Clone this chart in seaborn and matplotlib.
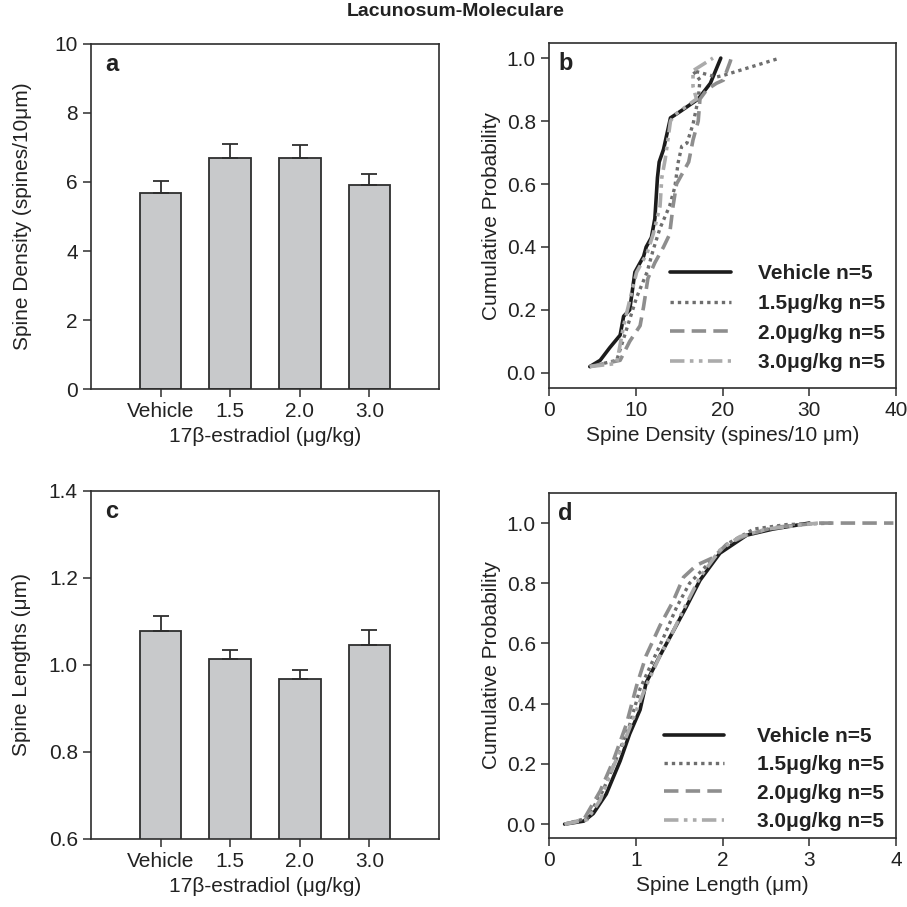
import numpy as np
import matplotlib
matplotlib.use("Agg")
import matplotlib.pyplot as plt
import seaborn as sns

sns.set_theme(style="ticks")
plt.rcParams['font.family'] = ['Liberation Sans', 'DejaVu Sans']

# bar panels
groups = ["Vehicle", "1.5", "2.0", "3.0"]
density_mean = [5.68, 6.70, 6.71, 5.91]
density_sem = [0.36, 0.40, 0.36, 0.31]
length_mean = [1.078, 1.014, 0.968, 1.047]
length_sem = [0.034, 0.020, 0.021, 0.033]

# cumulative curves, panel b (spine density)
series_names = ["Vehicle n=5", "1.5μg/kg n=5", "2.0μg/kg n=5", "3.0μg/kg n=5"]
b_veh_x = [4.7, 5.9, 7.0, 8.2, 8.6, 9.3, 9.9, 10.9, 11.2, 11.8, 12.2, 12.5, 12.7, 13.2, 13.6, 14.0, 15.1, 17.2, 18.6, 19.8]
b_veh_y = [0.02, 0.04, 0.08, 0.12, 0.18, 0.20, 0.32, 0.37, 0.40, 0.43, 0.49, 0.62, 0.67, 0.71, 0.76, 0.81, 0.83, 0.87, 0.92, 1.0]
b_15_x = [4.7, 7.8, 8.5, 9.3, 10.1, 11.3, 12.0, 12.8, 13.9, 14.5, 14.9, 15.3, 15.9, 16.6, 17.2, 17.4, 16.6, 19.3, 20.1, 26.6]
b_15_y = [0.02, 0.04, 0.10, 0.17, 0.24, 0.32, 0.39, 0.46, 0.53, 0.59, 0.67, 0.72, 0.73, 0.79, 0.87, 0.93, 0.96, 0.94, 0.945, 1.0]
b_20_x = [4.7, 8.2, 9.3, 10.5, 10.9, 11.4, 12.2, 13.2, 13.9, 14.3, 14.7, 15.5, 16.1, 16.6, 17.2, 17.4, 18.2, 19.3, 20.1, 20.9, 21.0]
b_20_y = [0.02, 0.04, 0.10, 0.15, 0.21, 0.30, 0.35, 0.40, 0.44, 0.53, 0.60, 0.64, 0.67, 0.74, 0.80, 0.87, 0.90, 0.92, 0.93, 0.99, 1.0]
b_30_x = [4.7, 7.8, 8.6, 9.3, 10.1, 11.3, 12.0, 12.8, 13.0, 13.4, 13.8, 14.0, 14.5, 17.0, 16.6, 16.6, 18.9]
b_30_y = [0.02, 0.03, 0.15, 0.23, 0.32, 0.38, 0.44, 0.53, 0.62, 0.68, 0.76, 0.80, 0.82, 0.87, 0.91, 0.96, 1.0]

# cumulative curves, panel d (spine length)
d_veh_x = [0.18, 0.40, 0.51, 0.66, 0.82, 0.93, 1.05, 1.12, 1.28, 1.43, 1.58, 1.74, 1.97, 2.28, 2.58, 3.0]
d_veh_y = [0.0, 0.01, 0.035, 0.10, 0.21, 0.30, 0.38, 0.47, 0.56, 0.64, 0.72, 0.81, 0.90, 0.96, 0.98, 1.0]
d_15_x = [0.18, 0.44, 0.62, 0.78, 0.93, 1.05, 1.16, 1.32, 1.47, 1.62, 1.82, 2.05, 2.36, 2.74, 3.3]
d_15_y = [0.0, 0.02, 0.11, 0.22, 0.33, 0.45, 0.52, 0.62, 0.72, 0.80, 0.86, 0.93, 0.98, 0.995, 1.0]
d_20_x = [0.18, 0.40, 0.59, 0.74, 0.89, 1.01, 1.12, 1.28, 1.43, 1.55, 1.70, 1.89, 2.05, 2.28, 2.58, 3.1, 3.97]
d_20_y = [0.0, 0.015, 0.11, 0.21, 0.33, 0.46, 0.56, 0.66, 0.74, 0.82, 0.86, 0.885, 0.93, 0.96, 0.985, 1.0, 1.0]
d_30_x = [0.18, 0.44, 0.59, 0.74, 0.89, 1.01, 1.12, 1.28, 1.43, 1.58, 1.74, 1.97, 2.20, 2.51, 3.1]
d_30_y = [0.0, 0.015, 0.08, 0.19, 0.29, 0.38, 0.46, 0.56, 0.64, 0.73, 0.82, 0.91, 0.955, 0.98, 1.0]

line_styles = [
    dict(color="#1c1c1c", linestyle="-", linewidth=2.6),
    dict(color="#6e6e6e", linestyle=(0, (1, 1.2)), linewidth=2.4),
    dict(color="#8e8e8e", linestyle=(0, (4, 2)), linewidth=2.6),
    dict(color="#ababab", linestyle=(0, (4, 1.5, 1, 1.5, 1, 1.5)), linewidth=2.6),
]

FS = 15
edge = "#2e2e2e"

fig = plt.figure(figsize=(9.07, 9.07), dpi=100)
ax_a = fig.add_axes([0.1003, 0.5711, 0.3837, 0.3804])
ax_b = fig.add_axes([0.6053, 0.5722, 0.3826, 0.3804])
ax_c = fig.add_axes([0.1003, 0.0750, 0.3837, 0.3837])
ax_d = fig.add_axes([0.6053, 0.0761, 0.3826, 0.3804])


def style_axis(ax):
    for s in ax.spines.values():
        s.set_visible(True)
        s.set_color(edge)
        s.set_linewidth(1.2)
    ax.tick_params(direction="out", length=6, width=1.1, color=edge,
                   labelsize=FS, labelcolor="#222222", top=False, right=False)


def bar_panel(ax, means, sems, ylim, yticks, ylabel, letter, pad):
    sns.barplot(x=groups, y=means, order=groups, ax=ax, color="#c8c9cb",
                width=0.6, edgecolor=edge, linewidth=1.3, saturation=1)
    pos = np.arange(len(groups))
    ax.errorbar(pos, means, yerr=[np.zeros(len(sems)), sems], fmt="none",
                ecolor=edge, elinewidth=1.3, capsize=6, capthick=1.3, zorder=1)
    ax.set_xlim(-1, 4)
    ax.set_ylim(*ylim)
    ax.set_yticks(yticks)
    ax.set_yticklabels([f"{t:g}" if ylim[1] > 2 else f"{t:.1f}" for t in yticks])
    ax.set_xlabel("17β-estradiol (μg/kg)", fontsize=FS, color="#222222")
    ax.set_ylabel(ylabel, fontsize=FS, color="#222222", labelpad=pad)
    style_axis(ax)
    ax.text(0.04, 0.94, letter, transform=ax.transAxes, fontsize=17,
            fontweight="bold", va="center", ha="left", color="#222222")


def cdf_panel(ax, curves, xlim, xticks, ylim, xlabel, letter, leg_anchor, tpad, lspace):
    for (xs, ys), name, st in zip(curves, series_names, line_styles):
        sns.lineplot(x=xs, y=ys, ax=ax, sort=False, estimator=None,
                     label=name, **st)
    ax.set_xlim(*xlim)
    ax.set_xticks(xticks)
    ax.set_ylim(*ylim)
    ax.set_yticks([0, 0.2, 0.4, 0.6, 0.8, 1.0])
    ax.set_yticklabels(["0.0", "0.2", "0.4", "0.6", "0.8", "1.0"])
    ax.set_xlabel(xlabel, fontsize=FS, color="#222222")
    ax.set_ylabel("Cumulative Probability", fontsize=FS, color="#222222")
    style_axis(ax)
    ax.text(0.026, 0.94, letter, transform=ax.transAxes, fontsize=17,
            fontweight="bold", va="center", ha="left", color="#222222")
    leg = ax.legend(loc="lower left", bbox_to_anchor=leg_anchor, frameon=False,
                    handlelength=2.9, handletextpad=tpad, labelspacing=lspace,
                    borderaxespad=0, borderpad=0,
                    prop=dict(size=FS, weight="bold"))
    for t in leg.get_texts():
        t.set_color("#222222")


bar_panel(ax_a, density_mean, density_sem, (0, 10), [0, 2, 4, 6, 8, 10],
          "Spine Density (spines/10μm)", "a", 16)
bar_panel(ax_c, length_mean, length_sem, (0.6, 1.4), [0.6, 0.8, 1.0, 1.2, 1.4],
          "Spine Lengths (μm)", "c", 13)

cdf_panel(ax_b, [(b_veh_x, b_veh_y), (b_15_x, b_15_y), (b_20_x, b_20_y), (b_30_x, b_30_y)],
          (0, 40), [0, 10, 20, 30, 40], (-0.048, 1.048),
          "Spine Density (spines/10 μm)", "b", (0.35, 0.045), 1.3, 0.52)
cdf_panel(ax_d, [(d_veh_x, d_veh_y), (d_15_x, d_15_y), (d_20_x, d_20_y), (d_30_x, d_30_y)],
          (0, 4), [0, 1, 2, 3, 4], (-0.046, 1.1),
          "Spine Length (μm)", "d", (0.33, 0.02), 1.6, 0.45)

fig.text(0.502, 0.987, "Lacunosum-Moleculare", ha="center", va="center",
         fontsize=14, fontweight="bold", color="#222222")

fig.savefig("out.png", dpi=100)
